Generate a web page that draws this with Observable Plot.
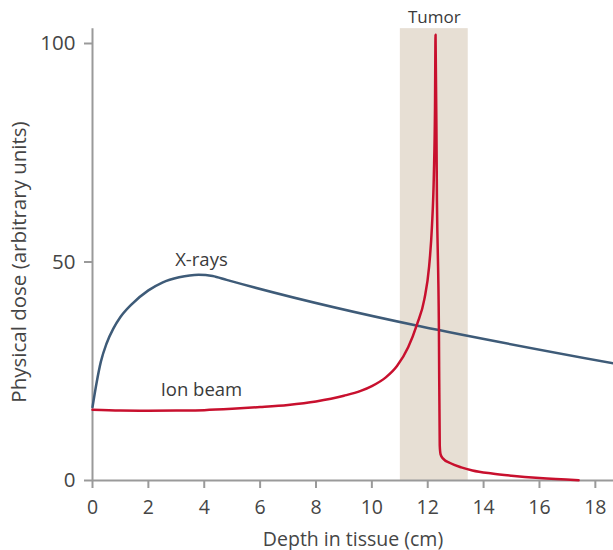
<!DOCTYPE html>
<html>
<head>
<meta charset="utf-8">
<script src="https://cdn.jsdelivr.net/npm/d3@7"></script>
<script src="https://cdn.jsdelivr.net/npm/@observablehq/plot@0.6"></script>
<style>
  html, body { margin: 0; padding: 0; background: #fff; }
  #chart svg { display: block; }
</style>
</head>
<body>
<div id="chart"></div>
<script>
// ---- data ----
const xrayDepth = [0, 0.15, 0.3, 0.5, 0.75, 1.0, 1.4, 2.0, 2.5, 3.1, 3.8, 4.3, 4.8, 18.65];
const xrayDose  = [16.8, 22.5, 27.2, 31.3, 34.8, 37.4, 40.3, 43.5, 45.3, 46.5, 47.1, 46.8, 45.9, 26.8];

const ionDepth = [0, 1, 2, 3, 4, 5, 6, 7, 8, 9, 9.6, 10, 10.5, 10.9, 11.3, 11.62, 11.88, 12.05, 12.15, 12.22, 12.26, 12.28,
                  12.33, 12.40, 12.43, 12.46, 12.55, 12.8, 13.2, 13.6, 14.3, 15.0, 16.0, 17.4];
const ionDose  = [16.2, 16.0, 15.95, 16.0, 16.1, 16.4, 16.8, 17.3, 18.1, 19.4, 20.5, 21.6, 23.6, 26.2, 30.5, 35.8, 41.5, 49, 58, 70, 85, 102,
                  64, 35, 8, 6, 5, 4.0, 3.0, 2.3, 1.6, 1.1, 0.55, 0.05];

const tumorRange = [11.02, 13.45];
const tumorTop = 103.4;

const xTicks = [0, 2, 4, 6, 8, 10, 12, 14, 16, 18];
const yTicks = [0, 50, 100];

const labelText  = ["X-rays", "Ion beam"];
const labelDepth = [3.9, 3.9];
const labelDose  = [50.5, 20.6];

const tumorLabel = "Tumor";

const xray = xrayDepth.map((d, i) => ({depth: d, dose: xrayDose[i]}));
const ion  = ionDepth.map((d, i) => ({depth: d, dose: ionDose[i]}));
const labels = labelText.map((t, i) => ({text: t, depth: labelDepth[i], dose: labelDose[i]}));

const font = "'Open Sans', 'Liberation Sans', Arial, sans-serif";
const textColor = "#454545";
const axisColor = "#9a9a9a";

const chart = Plot.plot({
  width: 613,
  height: 550,
  marginLeft: 92,
  marginRight: 0,
  marginTop: 43,
  marginBottom: 70,
  style: {fontFamily: font, fontSize: "19px", color: textColor, background: "#fff"},
  x: {domain: [0, 18.65]},
  y: {domain: [0, 100]},
  marks: [
    Plot.rectX([{x1: tumorRange[0], x2: tumorRange[1]}], {
      x1: "x1", x2: "x2", y1: 0, y2: tumorTop, fill: "#e7dfd4"
    }),
    Plot.ruleY([0], {stroke: axisColor, strokeWidth: 2}),
    Plot.ruleX([0], {y1: 0, y2: tumorTop, stroke: axisColor, strokeWidth: 2}),
    Plot.axisX({ticks: xTicks, tickSize: 8, tickPadding: 12, stroke: axisColor, strokeWidth: 2,
      color: textColor, fontSize: 19.5, label: null}),
    Plot.axisX({ticks: [], tickSize: 0, color: textColor, fontSize: 19.5,
      label: "Depth in tissue (cm)", labelAnchor: "center", labelArrow: "none", labelOffset: 65}),
    Plot.axisY({ticks: yTicks, tickSize: 8, tickPadding: 9, stroke: axisColor, strokeWidth: 2,
      color: textColor, fontSize: 20.5, label: "Physical dose (arbitrary units)", labelAnchor: "center",
      labelArrow: "none", labelOffset: 81}),
    Plot.line(xray, {x: "depth", y: "dose", stroke: "#3e5b78", strokeWidth: 2.5, curve: "monotone-x"}),
    Plot.line(ion, {x: "depth", y: "dose", stroke: "#c8102e", strokeWidth: 2.5, curve: "monotone-x"}),
    Plot.text(labels, {x: "depth", y: "dose", text: "text", fill: "#3a3a3a", fontSize: 18.5}),
    Plot.text([tumorLabel], {x: (tumorRange[0] + tumorRange[1]) / 2, y: tumorTop, dy: -11, text: d => d, fill: "#3a3a3a", fontSize: 17})
  ]
});
document.getElementById("chart").appendChild(chart);
</script>
</body>
</html>
